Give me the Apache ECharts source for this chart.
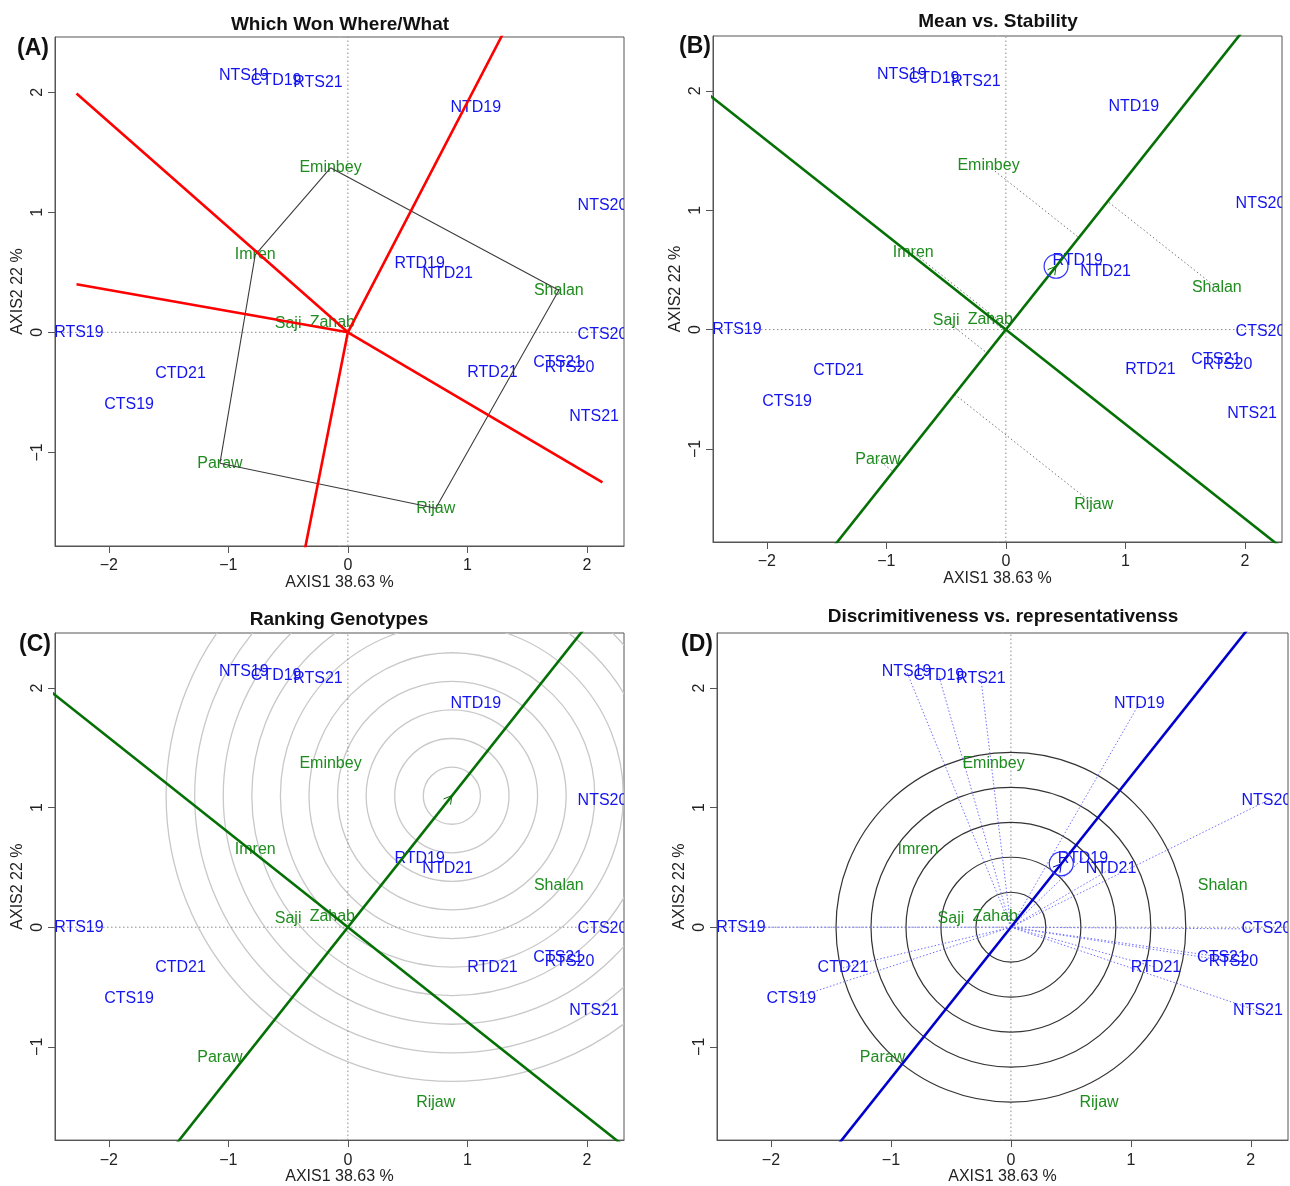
<!DOCTYPE html>
<html><head><meta charset="utf-8">
<script src="https://cdn.jsdelivr.net/npm/echarts@6/dist/echarts.min.js"></script>
<style>html,body{margin:0;padding:0;background:#fff}#c{width:1290px;height:1186px}</style>
</head><body><div id="c"></div>
<script>
// ---------- data ----------
const envNames = ['NTS19','CTD19','RTS21','NTD19','NTS20','RTD19','NTD21','RTS19','CTS20','CTD21','CTS19','RTD21','CTS21','RTS20','NTS21'];
const envX = [-0.87,-0.60,-0.25,1.07,2.13,0.60,0.835,-2.25,2.13,-1.40,-1.83,1.21,1.76,1.855,2.06];
const envY = [2.14,2.10,2.08,1.87,1.055,0.575,0.49,0.0,-0.015,-0.34,-0.60,-0.335,-0.25,-0.29,-0.70];

const genoNames = ['Eminbey','Imren','Shalan','Saji','Zahab','Paraw','Rijaw'];
const genoX = [-0.145,-0.775,1.765,-0.50,-0.13,-1.07,0.735];
const genoY = [1.37,0.645,0.35,0.075,0.085,-1.09,-1.465];

const hullOrder = ['Eminbey','Shalan','Rijaw','Paraw','Imren','Eminbey'];
const sectorEndX = [-2.27,-2.27,-0.37,2.13,1.33];
const sectorEndY = [1.99,0.40,-1.86,-1.25,2.55];

const avgEnv = [0.42,0.53];
const idealGeno = [0.87,1.10];
const rankRadii = [0.239,0.478,0.717,0.956,1.195,1.434,1.673,1.912,2.151,2.39];
const discRadii = [0.292,0.584,0.876,1.168,1.46];
const avgCircleR = 0.1;

const xTicks = [-2,-1,0,1,2];
const yTicks = [-1,0,1,2];
const xLim = [-2.45,2.31];
const yLim = [-1.78,2.46];
const xName = 'AXIS1 38.63 %';
const yName = 'AXIS2 22 %';
const titles = ['Which Won Where/What','Mean vs. Stability','Ranking Genotypes','Discrimitiveness vs. representativenss'];
const panelTags = ['(A)','(B)','(C)','(D)'];

// ---------- layout & styles ----------
const FONT = '"Liberation Sans", Arial, Helvetica, sans-serif';
const BLUE = '#1414ee', GREEN = '#1f8c1f', DKGREEN = '#057005', RED = '#ff0000';
const grids = [
  {left:55, top:37, width:569, height:509},
  {left:713, top:36, width:569, height:506},
  {left:55, top:633, width:569, height:510},
  {left:717, top:633, width:571, height:509}
];
const titlePos = [[340,25],[998,22],[339,620],[1003,617]];
const tagPos = [[33,49],[695,47],[35,645],[697,645]];

const minus = v => String(v).replace('-', '\u2212');

function xAxis(gi){
  return {gridIndex:gi, type:'value', min:xLim[0], max:xLim[1],
    name:xName, nameLocation:'middle', nameGap:26,
    nameTextStyle:{fontSize:16, color:'#222', fontFamily:FONT},
    axisLine:{show:true, onZero:false, lineStyle:{color:'#555', width:1}},
    axisTick:{show:true, inside:false, length:7, customValues:xTicks, lineStyle:{color:'#555'}},
    axisLabel:{show:true, customValues:xTicks, margin:12, fontSize:16, color:'#222', fontFamily:FONT, formatter:minus},
    splitLine:{show:false}};
}
function yAxis(gi){
  return {gridIndex:gi, type:'value', min:yLim[0], max:yLim[1],
    name:yName, nameLocation:'middle', nameGap:29, nameRotate:90,
    nameTextStyle:{fontSize:16, color:'#222', fontFamily:FONT},
    axisLine:{show:true, onZero:false, lineStyle:{color:'#555', width:1}},
    axisTick:{show:true, inside:false, length:7, customValues:yTicks, lineStyle:{color:'#555'}},
    axisLabel:{show:true, customValues:yTicks, margin:9, rotate:90, fontSize:16, color:'#222', fontFamily:FONT, formatter:minus},
    splitLine:{show:false}};
}

function seg(gi, pts, color, width, type, z){
  return {type:'line', xAxisIndex:gi, yAxisIndex:gi, data:pts, showSymbol:false, symbol:'none',
    silent:true, animation:false, clip:true, z:z||4,
    lineStyle:{color:color, width:width, type:type||'solid', cap:'butt'}};
}
function zeroLines(gi){
  return [seg(gi, [[0,yLim[0]],[0,yLim[1]]], '#8a8a8a', 1, [1.5,2.5], 1),
          seg(gi, [[xLim[0],0],[xLim[1],0]], '#8a8a8a', 1, [1.5,2.5], 1)];
}
function labels(gi, names, xs, ys, color){
  return {type:'custom', xAxisIndex:gi, yAxisIndex:gi, clip:true, z:3, silent:true, animation:false,
    data: xs.map((x,i)=>[x, ys[i]]),
    encode:{x:0, y:1},
    renderItem:(params, api)=>{
      const p = api.coord([api.value(0), api.value(1)]);
      return {type:'text', x:p[0], y:p[1],
        style:{text:names[params.dataIndex], fill:color, font:'16px '+FONT,
          align:'center', verticalAlign:'middle', textAlign:'center', textVerticalAlign:'middle'}};
    }};
}
function circles(gi, center, radii, color, width, z){
  return {type:'custom', xAxisIndex:gi, yAxisIndex:gi, clip:true, z:z||2, silent:true, animation:false,
    data:[center], encode:{x:0, y:1},
    renderItem:(params, api)=>{
      const c = api.coord([api.value(0), api.value(1)]);
      const children = radii.map(r=>{
        const rx = api.size([r,0])[0], ry = api.size([0,r])[1];
        return {type:'circle', shape:{cx:c[0], cy:c[1], r:(rx+ry)/2},
          style:{fill:'none', stroke:color, lineWidth:width}};
      });
      return {type:'group', children:children};
    }};
}
function arrowHead(gi, tip, color){
  return {type:'custom', xAxisIndex:gi, yAxisIndex:gi, clip:true, z:5, silent:true, animation:false,
    data:[tip], encode:{x:0, y:1},
    renderItem:(params, api)=>{
      const t = api.coord([api.value(0), api.value(1)]);
      const o = api.coord([0,0]);
      const a = Math.atan2(t[1]-o[1], t[0]-o[0]);
      const L = 9, w = Math.PI/6;
      const p1 = [t[0]-L*Math.cos(a-w), t[1]-L*Math.sin(a-w)];
      const p2 = [t[0]-L*Math.cos(a+w), t[1]-L*Math.sin(a+w)];
      return {type:'polyline', shape:{points:[p1,t,p2]}, style:{fill:'none', stroke:color, lineWidth:1}};
    }};
}

// ATC lines through origin
const far = 10;
const atcAbs = [[-far*avgEnv[0], -far*avgEnv[1]], [far*avgEnv[0], far*avgEnv[1]]];
const atcOrd = [[far*avgEnv[1], -far*avgEnv[0]], [-far*avgEnv[1], far*avgEnv[0]]];
const nrm = Math.hypot(avgEnv[0], avgEnv[1]);
const u = [avgEnv[0]/nrm, avgEnv[1]/nrm];

const series = [];
// ---- Panel A ----
series.push(...zeroLines(0));
series.push(labels(0, envNames, envX, envY, BLUE));
series.push(labels(0, genoNames, genoX, genoY, GREEN));
series.push(seg(0, hullOrder.map(n=>{const i=genoNames.indexOf(n); return [genoX[i], genoY[i]];}), '#3c3c3c', 1.1, 'solid', 4));
sectorEndX.forEach((x,i)=>series.push(seg(0, [[0,0],[x, sectorEndY[i]]], RED, 2.6, 'solid', 5)));

// ---- Panel B ----
series.push(...zeroLines(1));
series.push(labels(1, envNames, envX, envY, BLUE));
series.push(labels(1, genoNames, genoX, genoY, GREEN));
genoX.forEach((x,i)=>{
  const d = x*u[0] + genoY[i]*u[1];
  series.push(seg(1, [[x, genoY[i]], [d*u[0], d*u[1]]], '#777', 1, [1.5,2.5], 2));
});
series.push(seg(1, atcAbs, DKGREEN, 2.6, 'solid', 4));
series.push(seg(1, atcOrd, DKGREEN, 2.6, 'solid', 4));
series.push(circles(1, avgEnv, [avgCircleR], '#3030ff', 1.2, 5));
series.push(arrowHead(1, avgEnv, DKGREEN));

// ---- Panel C ----
series.push(circles(2, idealGeno, rankRadii, '#c8c8c8', 1.3, 1));
series.push(...zeroLines(2));
series.push(labels(2, envNames, envX, envY, BLUE));
series.push(labels(2, genoNames, genoX, genoY, GREEN));
series.push(seg(2, atcAbs, DKGREEN, 2.6, 'solid', 4));
series.push(seg(2, atcOrd, DKGREEN, 2.6, 'solid', 4));
series.push(arrowHead(2, idealGeno, DKGREEN));

// ---- Panel D ----
series.push(...zeroLines(3));
envX.forEach((x,i)=>series.push(seg(3, [[0,0],[x, envY[i]]], '#7070ff', 1, [1.5,2], 2)));
series.push(circles(3, [0,0], discRadii, '#333', 1.2, 2));
series.push(labels(3, envNames, envX, envY, BLUE));
series.push(labels(3, genoNames, genoX, genoY, GREEN));
series.push(seg(3, [[0,0], atcAbs[0]], '#0000cc', 2.6, 'solid', 4));
series.push(seg(3, [[0,0], atcAbs[1]], '#0000cc', 2.6, 'solid', 4));
series.push(circles(3, avgEnv, [avgCircleR], '#3030ff', 1.2, 5));
series.push(arrowHead(3, avgEnv, '#0000cc'));

const graphics = [];
titles.forEach((t,i)=>graphics.push({type:'text', x:titlePos[i][0], y:titlePos[i][1],
  style:{text:t, font:'bold 19px '+FONT, fill:'#111', align:'center', verticalAlign:'middle', textAlign:'center', textVerticalAlign:'middle'}}));
panelTags.forEach((t,i)=>graphics.push({type:'text', x:tagPos[i][0], y:tagPos[i][1],
  style:{text:t, font:'bold 23px '+FONT, fill:'#111', align:'center', verticalAlign:'middle', textAlign:'center', textVerticalAlign:'middle'}}));

const chart = echarts.init(document.getElementById('c'), null, {renderer:'canvas'});
chart.setOption({
  animation:false,
  backgroundColor:'#fff',
  textStyle:{fontFamily:FONT},
  grid: grids.map(g=>Object.assign({show:true, borderColor:'#555', borderWidth:1, backgroundColor:'transparent', containLabel:false}, g)),
  xAxis: [0,1,2,3].map(xAxis),
  yAxis: [0,1,2,3].map(yAxis),
  graphic: graphics,
  series: series
});
</script>
</body></html>
